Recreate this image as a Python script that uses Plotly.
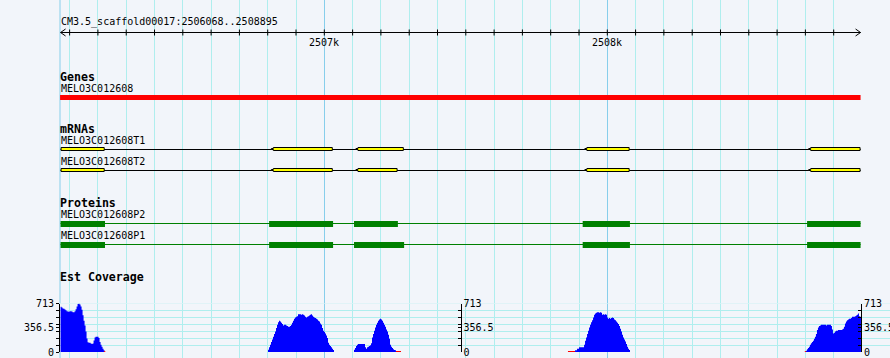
import plotly.graph_objects as go

W, H = 890, 358
BG = '#F2F5FA'
GRID_MINOR = '#AFEEEE'
GRID_MAJOR = '#87CEEB'
FONT = 'DejaVu Sans Mono'

# ---------------- data ----------------
segment_title = 'CM3.5_scaffold00017:2506068..2508895'
seg_start, seg_end = 2506068, 2508895
view_start, view_end = 2506066, 2508999

ruler_label_pos = [2507000, 2508000]
ruler_labels = ['2507k', '2508k']

gene_name = 'MELO3C012608'
gene_start, gene_end = 2506068, 2508895

mrna_names = ['MELO3C012608T1', 'MELO3C012608T2']
t1_exon_starts = [2506068, 2506811, 2507110, 2507919, 2508710]
t1_exon_ends = [2506224, 2507030, 2507281, 2508079, 2508895]
t2_exon_starts = [2506068, 2506811, 2507110, 2507919, 2508710]
t2_exon_ends = [2506224, 2507030, 2507259, 2508079, 2508895]

protein_names = ['MELO3C012608P2', 'MELO3C012608P1']
p2_cds_starts = [2506068, 2506805, 2507105, 2507913, 2508706]
p2_cds_ends = [2506225, 2507031, 2507260, 2508080, 2508895]
p1_cds_starts = [2506068, 2506805, 2507105, 2507913, 2508706]
p1_cds_ends = [2506225, 2507031, 2507282, 2508080, 2508895]

cov_track_name = 'Est Coverage'
cov_max = 713
cov_bin_bp = 3.5336
cov_block_starts = [2506068, 2506801, 2507105, 2507886, 2508702]
cov_block1 = [665, 655, 640, 635, 625, 615, 600, 596, 590, 600, 600, 595, 586, 586, 600,
              630, 670, 705, 713, 700, 670, 620, 540, 460, 390, 300, 200, 145, 137, 137,
              125, 117, 125, 170, 215, 224, 224, 224, 205, 146, 107, 78, 49, 24]
cov_block2 = [34, 69, 107, 146, 185, 224, 264, 303, 351, 400, 439, 458, 449, 429, 410,
              390, 400, 400, 390, 381, 371, 371, 381, 400, 429, 458, 488, 508, 518, 527,
              556, 556, 556, 546, 556, 546, 537, 518, 508, 518, 527, 537, 546, 556, 537,
              518, 508, 498, 488, 478, 458, 449, 420, 400, 351, 312, 293, 273, 244, 205,
              137, 107, 88, 68, 49, 29]
cov_block3 = [34, 58, 88, 107, 117, 117, 117, 117, 117, 117, 117, 68, 49, 68, 78,
              88, 98, 127, 215, 264, 312, 361, 400, 429, 458, 478, 488, 478, 458, 429,
              400, 371, 332, 303, 254, 195, 107, 78, 58, 39, 29, 24]
cov_block4 = [24, 24, 49, 49, 68, 68, 68, 68, 68, 107, 166, 215, 264, 312, 361,
              400, 439, 468, 508, 546, 566, 576, 586, 586, 576, 586, 576, 546, 556, 546,
              556, 546, 508, 488, 498, 488, 498, 508, 498, 478, 468, 449, 429, 410, 381,
              342, 303, 254, 215, 185, 156, 117, 78, 49, 29]
cov_block5 = [20, 39, 58, 78, 107, 127, 146, 166, 195, 224, 264, 322, 361, 381, 390,
              400, 400, 400, 400, 400, 390, 400, 400, 400, 400, 381, 332, 273, 283, 303,
              312, 312, 322, 322, 322, 322, 332, 342, 371, 420, 449, 468, 478, 488, 488,
              498, 518, 518, 518, 527, 537, 546, 566, 527, 518]
cov_blocks = [cov_block1, cov_block2, cov_block3, cov_block4, cov_block5]
cov_low_starts = [2506222, 2507253, 2507861, 2508698]
cov_low_ends = [2506226, 2507271, 2507886, 2508702]
cov_low_value = 15
cov_ticks = [0, 356.5, 713]
cov_tick_text = ['0', '356.5', '713']

# ---------------- layout constants (pixel rows) ----------------
X0_PX = 60
bp_per_px = (view_end - view_start) / (W - X0_PX)

fig = go.Figure()

# coverage
for start, vals in zip(cov_block_starts, cov_blocks):
    xs = [start + i * cov_bin_bp for i in range(len(vals) + 1)]
    ys = list(vals) + [vals[-1]]
    fig.add_trace(go.Scatter(x=xs, y=ys, xaxis='x', yaxis='y2', mode='lines',
                             line=dict(width=0, color='#0000FF', shape='hv'),
                             fill='tozeroy', fillcolor='#0000FF', hoverinfo='skip',
                             showlegend=False))
for s, e in zip(cov_low_starts, cov_low_ends):
    fig.add_trace(go.Scatter(x=[s, e], y=[cov_low_value, cov_low_value], xaxis='x', yaxis='y2',
                             mode='lines', line=dict(width=0, color='#FF0000', shape='hv'),
                             fill='tozeroy', fillcolor='#FF0000', hoverinfo='skip',
                             showlegend=False))
# dummy traces so extra coverage axes get drawn
for ax in ['y3', 'y4']:
    fig.add_trace(go.Scatter(x=[seg_start], y=[0], xaxis='x', yaxis=ax, mode='markers',
                             marker=dict(opacity=0), hoverinfo='skip', showlegend=False))

shapes = []
annotations = []


def text(t, x, y, bold=False, xref='paper', xanchor='left', size=None):
    f = dict(family=FONT, size=size or (11.6 if bold else 10), color='black')
    if bold:
        f['weight'] = 'bold'
    annotations.append(dict(text=t, x=x, y=y, xref=xref, yref='y', xanchor=xanchor,
                            yanchor='middle', showarrow=False, font=f, borderpad=0))


LX = (X0_PX - 0.5) / W

# left border line
shapes.append(dict(type='line', xref='paper', yref='paper', x0=X0_PX / W, x1=X0_PX / W,
                   y0=0, y1=1, line=dict(color=GRID_MAJOR, width=1), layer='below'))

# ruler
RY = 32.5
text(segment_title, LX, 21.5)
shapes.append(dict(type='line', xref='x', yref='y', x0=seg_start, x1=seg_end, y0=RY, y1=RY,
                   line=dict(color='black', width=1)))
for tick in range(2506100, seg_end, 100):
    shapes.append(dict(type='line', xref='x', yref='y', x0=tick, x1=tick, y0=RY - 3, y1=RY + 3,
                       line=dict(color='black', width=1)))
aw = 5 * bp_per_px
for tip, d in [(seg_start, 1), (seg_end, -1)]:
    shapes.append(dict(type='path', xref='x', yref='y',
                       path=f'M {tip + d*aw},{RY-3.5} L {tip},{RY} L {tip + d*aw},{RY+3.5}',
                       line=dict(color='black', width=1)))
for p, lab in zip(ruler_label_pos, ruler_labels):
    text(lab, p, 42.5, xref='x', xanchor='center')

# genes
text('Genes', LX - 1 / W, 76.5, bold=True)
text(gene_name, LX, 88.5)
shapes.append(dict(type='rect', xref='x', yref='y', x0=gene_start - 0.5 * bp_per_px, x1=gene_end,
                   y0=95, y1=100, fillcolor='#FF0000', line=dict(width=0)))

# mRNAs
text('mRNAs', LX - 1 / W, 128.5, bold=True)
mrna_rows = [(140.5, 149.5), (161.5, 170.5)]
mrna_exons = [(t1_exon_starts, t1_exon_ends), (t2_exon_starts, t2_exon_ends)]
for name, (ly, cy), (sts, ens) in zip(mrna_names, mrna_rows, mrna_exons):
    text(name, LX, ly)
    shapes.append(dict(type='line', xref='x', yref='y', x0=seg_start, x1=seg_end, y0=cy, y1=cy,
                       line=dict(color='black', width=1)))
    for i, (s, e) in enumerate(zip(sts, ens)):
        s2 = s + 0.5 * bp_per_px
        e2 = e - 0.5 * bp_per_px
        top, bot = cy - 2, cy + 1
        if i == 0:
            path = f'M {s2},{top} L {e2},{top} L {e2},{bot} L {s2},{bot} Z'
        else:
            xa = s2 + 2 * bp_per_px
            path = (f'M {s2},{top+1} L {xa},{top+1} L {xa},{top} L {e2},{top} L {e2},{bot} '
                    f'L {xa},{bot} L {xa},{bot-1} L {s2},{bot-1} Z')
        shapes.append(dict(type='path', xref='x', yref='y', path=path,
                           fillcolor='#FFFF00', line=dict(color='black', width=1)))

# proteins
text('Proteins', LX - 1 / W, 202.5, bold=True)
prot_rows = [(214.5, 223.5, 221, 227), (235.5, 244.5, 242, 248)]
prot_cds = [(p2_cds_starts, p2_cds_ends), (p1_cds_starts, p1_cds_ends)]
for name, (ly, cy, b0, b1), (sts, ens) in zip(protein_names, prot_rows, prot_cds):
    text(name, LX, ly)
    shapes.append(dict(type='line', xref='x', yref='y', x0=seg_start, x1=seg_end, y0=cy, y1=cy,
                       line=dict(color='#008000', width=1)))
    for s, e in zip(sts, ens):
        shapes.append(dict(type='rect', xref='x', yref='y', x0=s, x1=e, y0=b0, y1=b1,
                           fillcolor='#008000', line=dict(width=0)))

# coverage
text(cov_track_name, LX - 1 / W, 276.5, bold=True)
shapes.append(dict(type='line', xref='paper', yref='y2', x0=X0_PX / W, x1=1, y0=cov_max, y1=cov_max,
                   line=dict(color=GRID_MINOR, width=2), layer='below'))
shapes.append(dict(type='line', xref='paper', yref='y2', x0=X0_PX / W, x1=1, y0=0, y1=0,
                   line=dict(color=GRID_MAJOR, width=1.5), layer='below'))

minor_x = [v for v in range(2506100, seg_end, 100) if v % 1000 != 0]
cov_minor = [cov_max * i / 7 for i in range(1, 7)]

y0_px, y1_px = 352.0, 303.5
dom = [(H - y0_px) / H, (H - y1_px) / H]

cov_axis_common = dict(range=[0, cov_max], tickmode='array', tickvals=cov_ticks, ticktext=cov_tick_text,
                       showline=True, linecolor='black', linewidth=1, tickcolor='black', ticklen=3,
                       tickwidth=1, showgrid=False, zeroline=False, fixedrange=True, automargin=False,
                       tickfont=dict(family=FONT, size=10, color='black'))

fig.update_layout(
    template='none',
    width=W, height=H,
    margin=dict(l=0, r=0, t=0, b=0, pad=0, autoexpand=False),
    paper_bgcolor=BG, plot_bgcolor=BG,
    font=dict(family=FONT, size=10, color='black'),
    showlegend=False, hovermode=False,
    xaxis=dict(domain=[X0_PX / W, 1], range=[view_start, view_end], anchor='y', automargin=False,
               tickmode='array', tickvals=ruler_label_pos, showticklabels=False, ticks='',
               showgrid=True, gridcolor=GRID_MAJOR, gridwidth=1, zeroline=False, showline=False,
               fixedrange=True,
               minor=dict(tickmode='array', tickvals=minor_x, showgrid=True,
                          gridcolor=GRID_MINOR, gridwidth=1, ticks='')),
    yaxis=dict(domain=[0, 1], range=[H, 0], visible=False, fixedrange=True, automargin=False),
    yaxis2=dict(domain=dom, anchor='x', side='left', ticks='outside',
                minor=dict(tickmode='array', tickvals=cov_minor, ticks='outside', ticklen=3,
                           tickcolor='black', showgrid=True, gridcolor=GRID_MINOR, gridwidth=1),
                **cov_axis_common),
    yaxis3=dict(overlaying='y2', anchor='free', position=460.5 / W, side='right', ticks='inside',
                minor=dict(tickmode='array', tickvals=cov_minor, ticks='inside', ticklen=3,
                           tickcolor='black', showgrid=False),
                **cov_axis_common),
    yaxis4=dict(overlaying='y2', anchor='free', position=861 / W, side='right', ticks='inside',
                minor=dict(tickmode='array', tickvals=cov_minor, ticks='inside', ticklen=3,
                           tickcolor='black', showgrid=False),
                **cov_axis_common),
    shapes=shapes,
    annotations=annotations,
)

fig.write_html('out.html', config={'displayModeBar': False, 'staticPlot': True})
with open('out.html', 'r', encoding='utf-8') as fh:
    html = fh.read()
html = html.replace('<head>', '<head><style>html,body{margin:0;padding:0;overflow:hidden;background:%s;}</style>' % BG, 1)
with open('out.html', 'w', encoding='utf-8') as fh:
    fh.write(html)
